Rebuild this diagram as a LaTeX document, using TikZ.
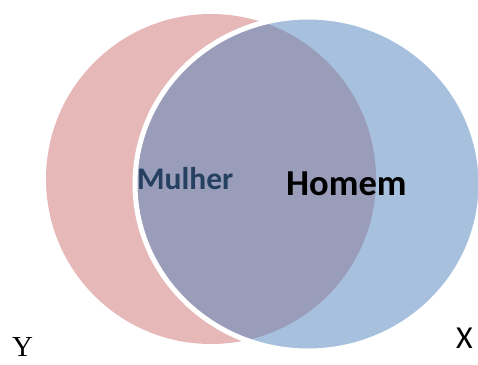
\documentclass[tikz,border=0pt]{standalone}
\usepackage{fontspec}
\usetikzlibrary{positioning}
\newfontfamily\calibrifont{Carlito}
\newfontfamily\serifont{Liberation Serif}
\definecolor{mulher}{HTML}{C0504D}
\definecolor{homem}{HTML}{4F81BD}
\definecolor{darklabel}{HTML}{254061}
\begin{document}
\begin{tikzpicture}[x=1pt, y=-1pt]
  \useasboundingbox (0,0) rectangle (478,364);

  \fill[mulher, opacity=0.4] (211,179) circle (165pt);
  \draw[white, line width=5pt, fill=homem, fill opacity=0.5] (308,184) ellipse (173pt and 167pt);

  \node[font=\calibrifont\bfseries\fontsize{31.5}{38}\selectfont, text=darklabel, anchor=base west, inner sep=0pt] (mulherlbl) at (137,189) {Mulher};
  \node[font=\calibrifont\bfseries\fontsize{36.5}{44}\selectfont, anchor=base west, inner sep=0pt] (homemlbl) at (286,195) {Homem};
  \node[font=\calibrifont\fontsize{32}{38}\selectfont, anchor=base west, inner sep=0pt] (xlbl) at (456,348) {X};
  \node[font=\serifont\fontsize{29}{35}\selectfont, anchor=base west, inner sep=0pt] (ylbl) at (12,356) {Y};
\end{tikzpicture}
\end{document}
